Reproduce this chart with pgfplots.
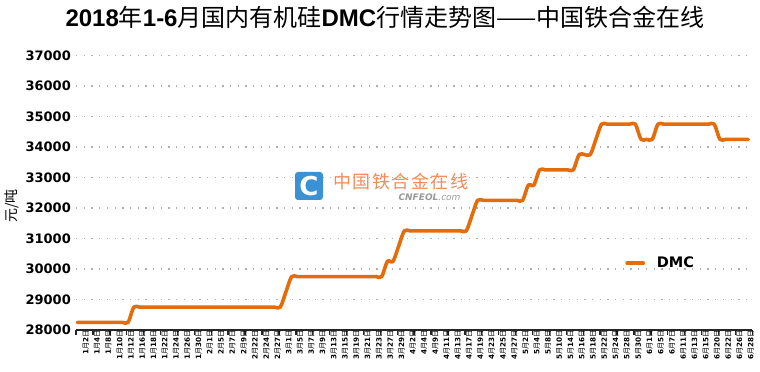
\documentclass[border=0pt]{standalone}
\usepackage{fontspec}
\usepackage{pgfplots}
\pgfplotsset{compat=1.18}
\setmainfont{DejaVu Sans}
\newfontfamily\cjk{Noto Sans CJK SC}
\newfontfamily\arial{Liberation Sans}
\definecolor{dmc}{RGB}{228,108,10}
\definecolor{wmorange}{RGB}{242,140,90}
\definecolor{wmblue}{RGB}{58,146,212}
\definecolor{gridc}{RGB}{175,175,175}
\newcommand\md[2]{\textbf{#1}{\cjk 月}\textbf{#2}{\cjk 日}}
\pgfplotsset{common/.style={
  at={(76bp,42bp)}, anchor=south west, scale only axis,
  width=676.3bp, height=274.5bp,
  xmin=-0.25, xmax=119.75, ymin=28000, ymax=37000}}
\begin{document}
\begin{tikzpicture}
\useasboundingbox (0,0) rectangle (760bp,372bp);
% tick marks below the x axis (as a thin strip with vertical grid lines)
\begin{axis}[
  at={(76bp,37bp)}, anchor=south west, scale only axis,
  width=676.3bp, height=5bp,
  xmin=-0.25, xmax=119.75, ymin=0, ymax=1,
  axis line style={draw=none},
  tick style={draw=none},
  major tick length=0pt,
  ytick=\empty,
  xtick={-0.25,2.75,...,119.75},
  xticklabels={},
  xmajorgrids,
  grid style={black!85, line width=1.4bp, solid},
]
\end{axis}
% main axis: x axis line, grid, y labels, data, legend
\begin{axis}[
  common,
  axis x line*=bottom, axis y line*=left,
  y axis line style={draw=none},
  x axis line style={line width=1.6bp, black!85},
  xtick=\empty,
  ytick={28000,29000,...,37000},
  scaled y ticks=false,
  major tick length=0pt,
  tick style={draw=none},
  ymajorgrids,
  grid style={gridc, line width=1.3bp, dash pattern=on 1.3bp off 6.4bp},
  yticklabel style={font=\fontsize{13bp}{13bp}\selectfont\bfseries, inner sep=0pt, xshift=-5bp},
  /pgf/number format/assume math mode=true,
  /pgf/number format/1000 sep={},
  legend style={at={(0.812,0.243)}, anchor=west, draw=none, fill=none,
    font=\fontsize{14.5bp}{15bp}\selectfont\bfseries, inner sep=0pt},
  legend image code/.code={\draw[#1] (0bp,0bp) -- (16bp,0bp);},
]
\addplot[dmc, line width=3.6bp, smooth, no marks, line join=round, line cap=round] coordinates {
(0,28250)(1,28250)(2,28250)(3,28250)(4,28250)(5,28250)(6,28250)(7,28250)(8,28250)(9,28250)
(10,28750)(11,28750)(12,28750)(13,28750)(14,28750)(15,28750)(16,28750)(17,28750)(18,28750)(19,28750)
(20,28750)(21,28750)(22,28750)(23,28750)(24,28750)(25,28750)(26,28750)(27,28750)(28,28750)(29,28750)
(30,28750)(31,28750)(32,28750)(33,28750)(34,28750)(35,28750)(36,28750)(37,29250)(38,29750)(39,29750)
(40,29750)(41,29750)(42,29750)(43,29750)(44,29750)(45,29750)(46,29750)(47,29750)(48,29750)(49,29750)
(50,29750)(51,29750)(52,29750)(53,29750)(54,29750)(55,30250)(56,30250)(57,30750)(58,31250)(59,31250)
(60,31250)(61,31250)(62,31250)(63,31250)(64,31250)(65,31250)(66,31250)(67,31250)(68,31250)(69,31250)
(70,31750)(71,32250)(72,32250)(73,32250)(74,32250)(75,32250)(76,32250)(77,32250)(78,32250)(79,32250)
(80,32750)(81,32750)(82,33250)(83,33250)(84,33250)(85,33250)(86,33250)(87,33250)(88,33250)(89,33750)
(90,33750)(91,33750)(92,34250)(93,34750)(94,34750)(95,34750)(96,34750)(97,34750)(98,34750)(99,34750)
(100,34250)(101,34250)(102,34250)(103,34750)(104,34750)(105,34750)(106,34750)(107,34750)(108,34750)(109,34750)
(110,34750)(111,34750)(112,34750)(113,34750)(114,34250)(115,34250)(116,34250)(117,34250)(118,34250)(119,34250)
};
\addlegendentry{\hspace{10bp}DMC}
\end{axis}
% x tick labels
\begin{axis}[
  common,
  axis line style={draw=none},
  tick style={draw=none},
  major tick length=0pt,
  ytick=\empty,
  xtick={0,2,...,118},
  xticklabels={\md{1}{2},\md{1}{4},\md{1}{8},\md{1}{10},\md{1}{12},\md{1}{16},\md{1}{18},\md{1}{22},\md{1}{24},\md{1}{26},\md{1}{30},
    \md{2}{1},\md{2}{5},\md{2}{7},\md{2}{9},\md{2}{22},\md{2}{24},\md{2}{27},
    \md{3}{1},\md{3}{5},\md{3}{7},\md{3}{9},\md{3}{13},\md{3}{15},\md{3}{19},\md{3}{21},\md{3}{23},\md{3}{27},\md{3}{29},
    \md{4}{2},\md{4}{4},\md{4}{9},\md{4}{11},\md{4}{13},\md{4}{17},\md{4}{19},\md{4}{23},\md{4}{25},\md{4}{27},
    \md{5}{2},\md{5}{4},\md{5}{8},\md{5}{10},\md{5}{14},\md{5}{16},\md{5}{18},\md{5}{22},\md{5}{24},\md{5}{28},\md{5}{30},
    \md{6}{1},\md{6}{5},\md{6}{7},\md{6}{11},\md{6}{13},\md{6}{15},\md{6}{20},\md{6}{22},\md{6}{26},\md{6}{28}},
  xticklabel style={rotate=90, anchor=east, font=\fontsize{7.2bp}{7.5bp}\selectfont, inner sep=0pt, yshift=-8.5bp},
]
\end{axis}
% title
\node[font=\fontsize{24bp}{25bp}\selectfont] at (385bp,355bp)
  {{\arial\bfseries 2018}{\cjk 年}{\arial\bfseries 1-6}{\cjk 月国内有机硅}{\arial\bfseries DMC}{\cjk 行情走势图——中国铁合金在线}};
% y label
\node[rotate=90, font=\cjk\fontsize{14bp}{14bp}\selectfont] at (12bp,166bp) {元/吨};
% watermark
\node[fill=wmblue, rounded corners=3bp, minimum width=28bp, minimum height=28bp, inner sep=0pt,
      text=white, font=\fontsize{26bp}{26bp}\selectfont\bfseries] at (309bp,186bp) {C};
\node[anchor=west, text=wmorange, font=\cjk\fontsize{18bp}{18bp}\selectfont\addfontfeatures{LetterSpace=8}] at (330bp,190bp) {中国铁合金在线};
\node[anchor=east, text=gray!80, font=\fontsize{9bp}{9bp}\selectfont\itshape] at (464bp,175bp) {\textbf{CNFEOL}.com};
\end{tikzpicture}
\end{document}
